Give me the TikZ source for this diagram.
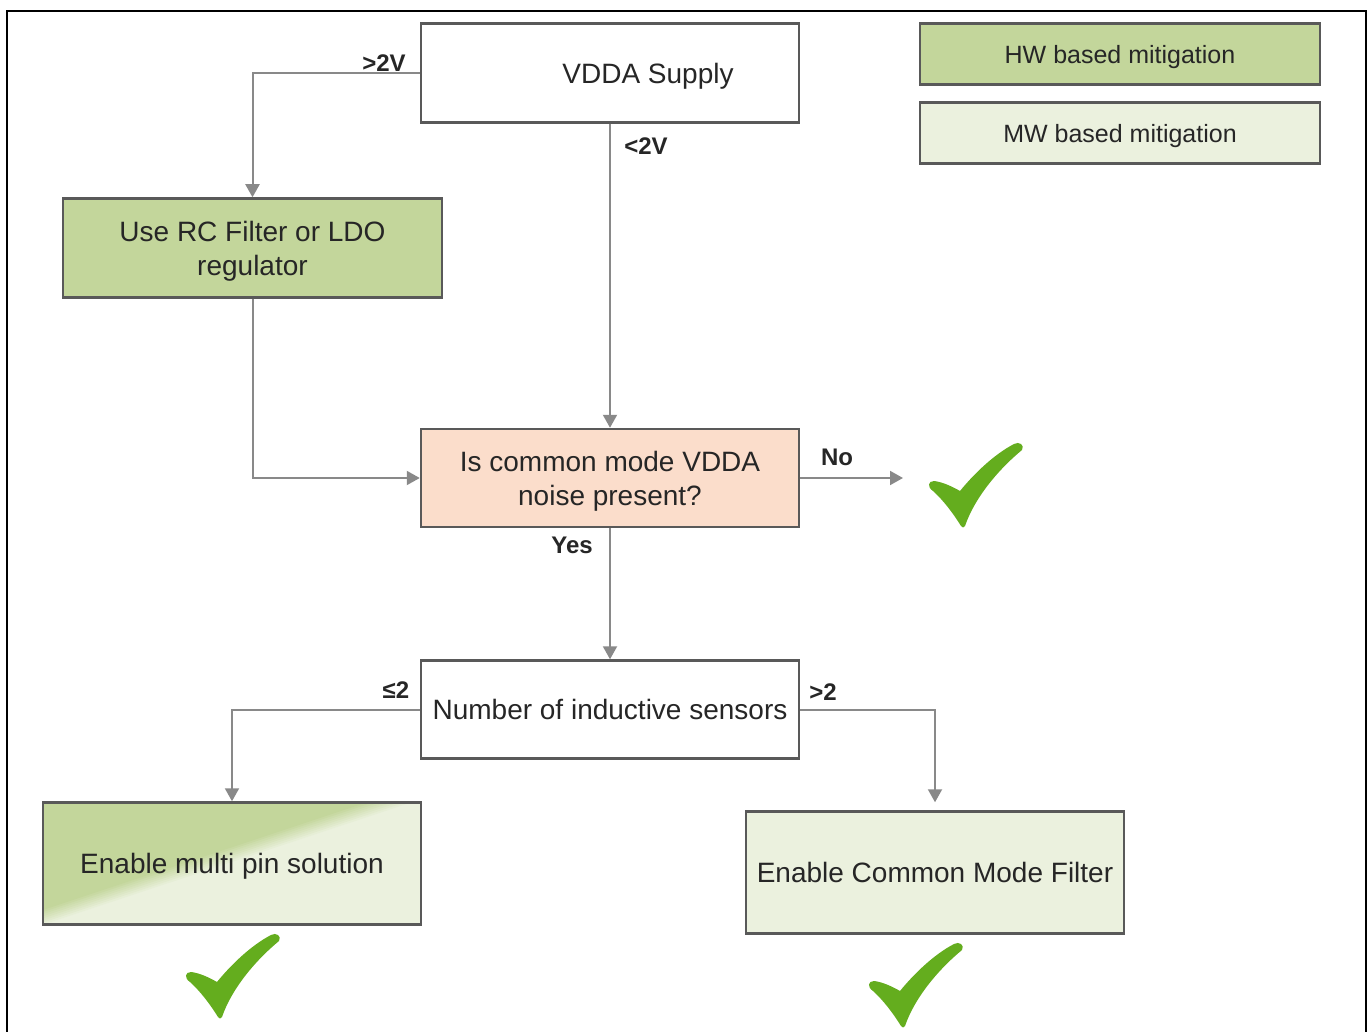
\documentclass[tikz,border=0pt]{standalone}
\usepackage{fontspec}
\setmainfont{Liberation Sans}
\usetikzlibrary{arrows.meta}
\definecolor{hwgreen}{HTML}{C3D69B}
\definecolor{mwlight}{HTML}{EBF1DE}
\definecolor{peach}{HTML}{FBDDCB}
\definecolor{boxline}{HTML}{595959}
\definecolor{connline}{HTML}{898989}
\definecolor{inktext}{HTML}{262626}
\definecolor{tickgreen}{RGB}{100,173,30}

\begin{document}
\begin{tikzpicture}[x=1pt,y=-1pt,
  box/.style={draw=boxline, line width=2.5pt, rectangle, text=inktext, align=center,
              font=\fontsize{28}{34}\selectfont, inner sep=0pt, text depth=0pt},
  legend/.style={draw=boxline, line width=2.5pt, rectangle, text=inktext, inner sep=0pt,
              minimum width=400pt, minimum height=61pt, font=\fontsize{25}{30}\selectfont,
              text depth=0pt},
  conn/.style={draw=connline, line width=2pt, -{Triangle[length=13pt,width=14pt]}},
  lbl/.style={text=inktext, font=\bfseries\fontsize{24}{28}\selectfont, inner sep=0pt},
  greentick/.pic={
    \fill[tickgreen] (-2,-1) .. controls (-10,-14) and (-20,-27) .. (-30,-36)
      .. controls (-36,-40) and (-35,-46) .. (-29,-46)
      .. controls (-20,-45) and (-10,-40) .. (-3,-36)
      .. controls (10,-52) and (30,-72) .. (51,-83)
      .. controls (56,-86) and (62,-82) .. (59,-77)
      .. controls (36,-58) and (12,-30) .. (2,-1)
      .. controls (1,1) and (-1,1) .. (-2,-1) -- cycle;
  }
]
\useasboundingbox (0,0) rectangle (1371,1032);
\fill[white] (0,0) rectangle (1371,1032);

% outer frame, open at the bottom
\draw[black, line width=2.5pt] (7,1032) -- (7,11) -- (1366,11) -- (1366,1032);

% diagonal two-tone fill of the multi pin box
\begin{scope}
  \clip (43,802) rectangle (421,924);
  \fill[mwlight] (43,802) rectangle (421,924);
  \foreach \t in {8,6,...,-8} {
    \pgfmathsetmacro\p{(8-\t)*100/16}
    \fill[hwgreen!\p!mwlight, shift={({\t*0.315},{\t*0.949})}]
      (-902,1232) -- (996,602) -- (681,-347) -- (-1217,283) -- cycle;
  }
\end{scope}

% boxes
\node[box, fill=white, minimum width=378pt, minimum height=99pt] (vdda) at (610,73) {\hspace*{76pt}VDDA Supply};
\node[legend, fill=hwgreen] (hw) at (1120,54) {HW based mitigation};
\node[legend, fill=mwlight] (mw) at (1120,133) {MW based mitigation};
\node[box, fill=hwgreen, minimum width=379pt, minimum height=99pt] (rc) at (252.5,248) {Use RC Filter or LDO\\regulator};
\node[box, fill=peach, minimum width=378pt, minimum height=98pt] (noise) at (610,478) {Is common mode VDDA\\noise present?};
\node[box, fill=white, minimum width=378pt, minimum height=98pt] (num) at (610,709.5) {Number of inductive sensors};
\node[box, minimum width=378pt, minimum height=122pt] (multi) at (232,863.5) {Enable multi pin solution};
\node[box, fill=mwlight, minimum width=378pt, minimum height=122pt] (cmf) at (935,872.5) {Enable Common Mode Filter};

\coordinate (noend) at (903,478);

% connectors
\draw[conn] (vdda.west) -| (rc.north);
\draw[conn] (vdda.south) -- (noise.north);
\draw[conn] (rc.south) |- (noise.west);
\draw[conn] (noise.east) -- (noend);
\draw[conn] (noise.south) -- (num.north);
\draw[conn] (num.west) -| (multi.north);
\draw[conn, shorten >=8pt] (num.east) -| (cmf.north);

% branch labels
\node[lbl] (lgt2v) at (384,63) {>2V};
\node[lbl] (llt2v) at (646,146) {<2V};
\node[lbl] (lno) at (837,457) {No};
\node[lbl] (lyes) at (572,545) {Yes};
\node[lbl] (lle2) at (396,690) {≤2};
\node[lbl] (lgt2) at (823,692) {>2};

% check marks
\pic (tickno) at (963,527) {greentick};
\pic (tickmulti) at (220,1018) {greentick};
\pic (tickcmf) at (903,1027) {greentick};
\end{tikzpicture}
\end{document}
